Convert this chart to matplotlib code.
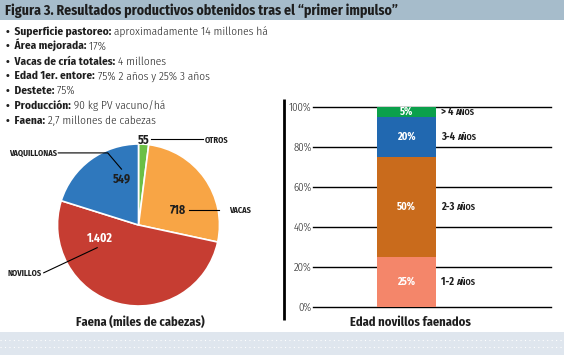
import numpy as np
import matplotlib.pyplot as plt
from matplotlib import font_manager as fm

names = {f.name for f in fm.fontManager.ttflist}
NARROW = 'Fira Sans Condensed' if 'Fira Sans Condensed' in names else 'DejaVu Sans'
plt.rcParams['font.family'] = [NARROW, 'DejaVu Sans']

# ---------------- data ----------------
titulo = 'Figura 3. Resultados productivos obtenidos tras el “primer impulso”'
bullet_keys = ['Superficie pastoreo:', 'Área mejorada:', 'Vacas de cría totales:',
               'Edad 1er. entore:', 'Destete:', 'Producción:', 'Faena:']
bullet_vals = ['aproximadamente 14 millones há', '17%', '4 millones',
               '75% 2 años y 25% 3 años', '75%', '90 kg PV vacuno/há',
               '2,7 millones de cabezas']

faena_labels = ['OTROS', 'VACAS', 'NOVILLOS', 'VAQUILLONAS']
faena_vals = [55, 718, 1402, 549]
faena_txt = ['55', '718', '1.402', '549']
faena_colors = ['#6cbf45', '#f8a545', '#c63d32', '#2f78bd']

edad_labels = ['1-2', '2-3', '3-4', '> 4']
edad_pct = [25, 50, 20, 5]
edad_colors = ['#f4866a', '#c96b1c', '#2168b0', '#0ba04b']

DARK = '#1e1e1e'

fig = plt.figure(figsize=(5.64, 3.55), dpi=100)

# background layer in pixel coordinates
bg = fig.add_axes([0, 0, 1, 1])
bg.set_xlim(0, 564)
bg.set_ylim(355, 0)
bg.axis('off')
bg.add_patch(plt.Rectangle((0, 0), 564, 20, color='#a6bccb', lw=0))
bg.add_patch(plt.Rectangle((0, 332), 564, 23, color='#dfe6ee', lw=0))
for yy in (340, 347):
    bg.plot([0, 564], [yy, yy], color='white', lw=0.8, ls=(0, (1, 3)))
bg.text(5, 10.5, titulo, fontsize=10, fontweight='bold', va='center', color=DARK)

# bullet list (bold key + regular value)
for i, (k, v) in enumerate(zip(bullet_keys, bullet_vals)):
    y = 35 + i * 14.8
    t = bg.text(6, y, '•  ' + k, fontsize=8.2, fontweight='bold', color=DARK, va='baseline')
    bg.annotate(' ' + v, xy=(1, 0), xycoords=t, va='bottom', ha='left',
                fontsize=8.2, fontweight=300, color=DARK)

# vertical rule left of bar chart
bg.plot([284, 284], [99, 320], color='black', lw=2, solid_capstyle='butt')

# ---------------- pie ----------------
ax1 = fig.add_axes([(138.5 - 81) / 564, (355 - 225 - 81) / 355, 162 / 564, 162 / 355])
ax1.pie(faena_vals, colors=faena_colors, startangle=90, counterclock=False,
        wedgeprops=dict(edgecolor='white', linewidth=1.2))
ax1.set_xlim(-1, 1)
ax1.set_ylim(-1, 1)

lab = dict(fontsize=6, fontweight='bold', color=DARK, va='center')
num = dict(fontsize=8.5, fontweight='bold', va='center', ha='center')
ln = dict(color='black', lw=0.8, clip_on=False)

# OTROS
ax1.text(0.07, 1.04, faena_txt[0], color=DARK, **num)
ax1.plot([0.16, 0.80], [1.06, 1.06], **ln)
ax1.text(0.82, 1.05, faena_labels[0], ha='left', **lab)
# VACAS
ax1.text(0.49, 0.185, faena_txt[1], color=DARK, **num)
ax1.plot([0.62, 0.99], [0.185, 0.185], **ln)
ax1.text(1.12, 0.185, faena_labels[1], ha='left', **lab)
# NOVILLOS
ax1.text(-0.48, -0.16, faena_txt[2], color='white', **num)
ax1.plot([-1.17, -0.51], [-0.59, -0.28], **ln)
ax1.text(-1.19, -0.60, faena_labels[2], ha='right', **lab)
# VAQUILLONAS
ax1.text(-0.20, 0.57, faena_txt[3], color=DARK, **num)
ax1.plot([-0.99, -0.38, -0.21], [0.89, 0.89, 0.69], **ln)
ax1.text(-1.01, 0.89, faena_labels[3], ha='right', **lab)

bg.text(140, 322, 'Faena (miles de cabezas)', fontsize=9, fontweight='bold',
        ha='center', va='center', color=DARK)

# ---------------- stacked bar ----------------
ax2 = fig.add_axes([313 / 564, (355 - 307) / 355, 238 / 564, 200 / 355])
ax2.patch.set_visible(False)
bottom = 0
for p, c, l in zip(edad_pct, edad_colors, edad_labels):
    ax2.bar(0, p, bottom=bottom, width=1, color=c, zorder=3)
    mid = bottom + p / 2
    ax2.text(0, mid, f'{p}%', color='white', fontsize=7.5, fontweight='bold',
             ha='center', va='center', zorder=4)
    t = ax2.text(0.585, mid, l + ' ', color=DARK, fontsize=7.5, fontweight='bold',
                 ha='left', va='center')
    ax2.annotate('AÑOS', xy=(1, 0), xycoords=t, va='bottom', ha='left',
                 color=DARK, fontsize=6, fontweight='bold')
    bottom += p

ax2.set_xlim(-1.585, 2.449)
ax2.set_ylim(0, 100)
ax2.set_xticks([])
ax2.set_yticks(range(0, 101, 20))
ax2.set_yticklabels([f'{v}%' for v in range(0, 101, 20)], fontsize=7.8,
                    fontweight=300, color=DARK)
ax2.tick_params(axis='y', length=0, pad=1)
ax2.yaxis.grid(True, color='black', lw=1)
for gl in ax2.get_ygridlines():
    gl.set_clip_on(False)
ax2.set_axisbelow(True)
for s in ax2.spines.values():
    s.set_visible(False)

bg.text(410, 322, 'Edad novillos faenados', fontsize=9, fontweight='bold',
        ha='center', va='center', color=DARK)

fig.savefig('out.png', dpi=100)
